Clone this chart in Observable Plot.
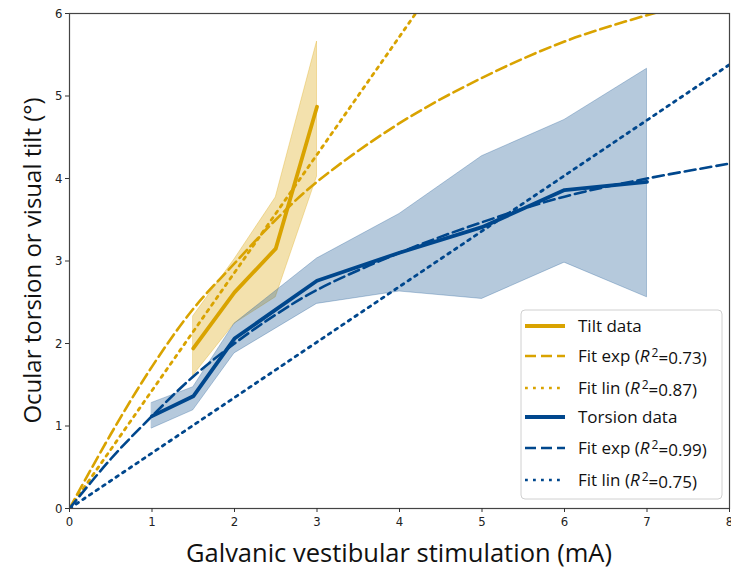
<!DOCTYPE html>
<html>
<head>
<meta charset="utf-8">
<script src="https://cdn.jsdelivr.net/npm/d3@7"></script>
<script src="https://cdn.jsdelivr.net/npm/@observablehq/plot@0.6"></script>
<style>
  html, body { margin: 0; padding: 0; background: #fff; }
  #chart { position: relative; width: 731px; height: 570px; overflow: hidden; }
</style>
</head>
<body>
<div id="chart"></div>
<script>
// ---- data ----
const tiltX    = [1.5, 2, 2.5, 3];
const tiltMean = [1.94, 2.62, 3.15, 4.87];
const tiltLow  = [1.61, 2.24, 2.56, 4.02];
const tiltHigh = [2.33, 3.02, 3.77, 5.66];

const torsX    = [1, 1.5, 2, 3, 4, 5, 6, 7];
const torsMean = [1.12, 1.36, 2.06, 2.76, 3.10, 3.41, 3.86, 3.96];
const torsLow  = [0.97, 1.19, 1.88, 2.48, 2.63, 2.54, 2.98, 2.56];
const torsHigh = [1.28, 1.47, 2.24, 3.03, 3.57, 4.27, 4.71, 5.33];

const fitX         = [0, 0.5, 1, 1.5, 2, 2.5, 3, 4, 5, 6, 7, 8];
const tiltExpFit   = [0, 0.90, 1.72, 2.42, 2.97, 3.50, 3.96, 4.67, 5.22, 5.66, 5.98, 6.25];
const torsExpFit   = [0, 0.60, 1.12, 1.60, 2.00, 2.35, 2.65, 3.10, 3.47, 3.78, 4.00, 4.18];
const linX         = [0, 8];
const tiltLinFit   = [0, 11.44];
const torsLinFit   = [0, 5.38];

const xTicks = [0, 1, 2, 3, 4, 5, 6, 7, 8];
const yTicks = [0, 1, 2, 3, 4, 5, 6];

const legendItems = [
  {label: "Tilt data", r2: null, color: "gold", dash: null},
  {label: "Fit exp", r2: "0.73", color: "gold", dash: "dash"},
  {label: "Fit lin", r2: "0.87", color: "gold", dash: "dot"},
  {label: "Torsion data", r2: null, color: "blue", dash: null},
  {label: "Fit exp", r2: "0.99", color: "blue", dash: "dash"},
  {label: "Fit lin", r2: "0.75", color: "blue", dash: "dot"}
];

// ---- styles ----
const GOLD = "#D9A300";
const BLUE = "#00478D";
const COLORS = {gold: GOLD, blue: BLUE};
const DASH = "11,5";
const DOT = "2.8,5.2";

const tiltData = tiltX.map((x, i) => ({x, y: tiltMean[i], lo: tiltLow[i], hi: tiltHigh[i]}));
const torsData = torsX.map((x, i) => ({x, y: torsMean[i], lo: torsLow[i], hi: torsHigh[i]}));
const tiltExp = fitX.map((x, i) => ({x, y: tiltExpFit[i]}));
const torsExp = fitX.map((x, i) => ({x, y: torsExpFit[i]}));
const tiltLin = linX.map((x, i) => ({x, y: tiltLinFit[i]}));
const torsLin = linX.map((x, i) => ({x, y: torsLinFit[i]}));

const tickFont = "'DejaVu Sans Condensed', 'Liberation Sans Narrow', 'DejaVu Sans', sans-serif";
const labelFont = "'Open Sans', 'Noto Sans', sans-serif";
const fmt = d3.format("d");

const plot = Plot.plot({
  width: 731,
  height: 570,
  marginLeft: 69,
  marginRight: 2,
  marginTop: 13,
  marginBottom: 62,
  style: {fontFamily: tickFont, fontSize: "13px", color: "#222", background: "#fff"},
  x: {domain: [0, 8]},
  y: {domain: [0, 6]},
  marks: [
    Plot.areaY(tiltData, {x: "x", y1: "lo", y2: "hi", fill: GOLD, fillOpacity: 0.32, stroke: GOLD, strokeOpacity: 0.3, strokeWidth: 1}),
    Plot.areaY(torsData, {x: "x", y1: "lo", y2: "hi", fill: "#1F5A96", fillOpacity: 0.33, stroke: "#1F5A96", strokeOpacity: 0.3, strokeWidth: 1}),
    Plot.line(tiltExp, {x: "x", y: "y", stroke: GOLD, strokeWidth: 2.6, strokeDasharray: DASH, curve: "catmull-rom", clip: true}),
    Plot.line(tiltLin, {x: "x", y: "y", stroke: GOLD, strokeWidth: 2.8, strokeDasharray: DOT, clip: true}),
    Plot.line(torsExp, {x: "x", y: "y", stroke: BLUE, strokeWidth: 2.6, strokeDasharray: DASH, curve: "catmull-rom", clip: true}),
    Plot.line(torsLin, {x: "x", y: "y", stroke: BLUE, strokeWidth: 2.8, strokeDasharray: DOT, clip: true}),
    Plot.line(tiltData, {x: "x", y: "y", stroke: GOLD, strokeWidth: 3.8}),
    Plot.line(torsData, {x: "x", y: "y", stroke: BLUE, strokeWidth: 3.8}),
    Plot.frame({stroke: "#444", strokeWidth: 1.2}),
    Plot.axisX({ticks: xTicks, tickFormat: fmt, tickSize: 4, tickPadding: 4, label: null, fontSize: 13, stroke: "#333"}),
    Plot.axisY({ticks: yTicks, tickFormat: fmt, tickSize: 4, tickPadding: 3, label: null, fontSize: 13, stroke: "#333"})
  ]
});

document.getElementById("chart").appendChild(plot);

// ---- axis titles and legend drawn in the same svg ----
const svg = d3.select(plot);
const xs = plot.scale("x"), ys = plot.scale("y");
const xMid = (xs.apply(0) + xs.apply(8)) / 2;
const yMid = (ys.apply(0) + ys.apply(6)) / 2;

svg.append("text")
  .attr("x", xMid).attr("y", 562)
  .attr("text-anchor", "middle")
  .style("font-family", labelFont).style("font-size", "25.5px").style("fill", "#111")
  .text("Galvanic vestibular stimulation (mA)");

svg.append("text")
  .attr("transform", `translate(33,${yMid}) rotate(-90)`)
  .attr("text-anchor", "middle")
  .attr("dy", "0.35em")
  .style("font-family", labelFont).style("font-size", "24px").style("fill", "#111")
  .text("Ocular torsion or visual tilt (°)");

const lg = svg.append("g").attr("transform", "translate(521,310)");
lg.append("rect").attr("width", 201).attr("height", 189).attr("rx", 4)
  .attr("fill", "#fff").attr("fill-opacity", 0.85).attr("stroke", "#d0d0d0").attr("stroke-width", 1);
const rowY = [16, 46, 78, 107, 138, 170];
legendItems.forEach((d, i) => {
  const g = lg.append("g").attr("transform", `translate(0,${rowY[i]})`);
  g.append("line").attr("x1", 4).attr("x2", 44).attr("y1", 0).attr("y2", 0)
    .attr("stroke", COLORS[d.color])
    .attr("stroke-width", d.dash ? 2.6 : 3.8)
    .attr("stroke-dasharray", d.dash === "dash" ? "11,5" : d.dash === "dot" ? DOT : null);
  const t = g.append("text").attr("x", 57).attr("y", 0).attr("dy", "0.35em")
    .attr("text-anchor", "start")
    .style("font-family", labelFont).style("font-size", "17px").style("fill", "#111");
  t.append("tspan").text(d.label);
  if (d.r2) {
    t.append("tspan").text(" (");
    t.append("tspan").style("font-style", "italic").text("R");
    t.append("tspan").attr("dx", "2").attr("dy", "-0.45em").style("font-size", "12px").text("2");
    t.append("tspan").attr("dy", "0.45em").text("=" + d.r2 + ")");
  }
});
</script>
</body>
</html>
